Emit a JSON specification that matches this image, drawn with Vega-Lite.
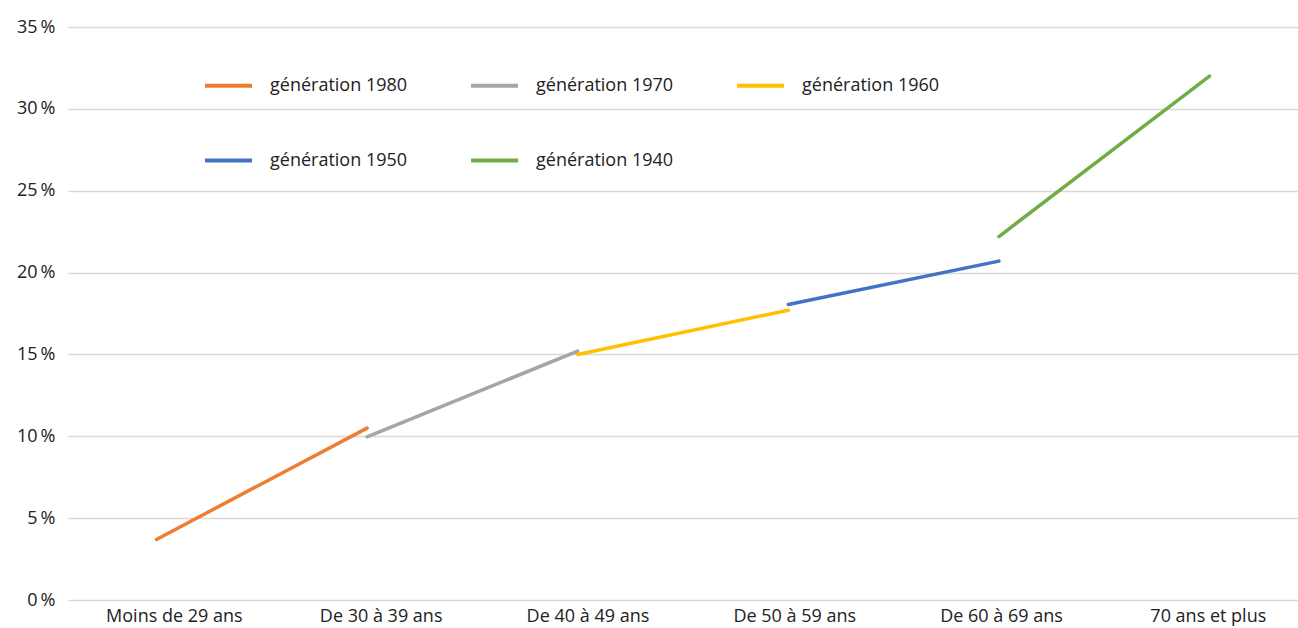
{
  "$schema": "https://vega.github.io/schema/vega-lite/v6.json",
  "width": 1230,
  "height": 573,
  "autosize": {"type": "none"},
  "padding": {"left": 68, "top": 27, "right": 0, "bottom": 28},
  "background": "white",
  "config": {
    "view": {"stroke": null},
    "font": "Open Sans",
    "axis": {"labelFont": "Open Sans", "labelColor": "#222222", "labelFontSize": 18},
    "legend": {"labelFont": "Open Sans", "labelColor": "#222222", "labelFontSize": 18}
  },
  "data": {
    "values": [
      {"generation": "génération 1980", "age": "Moins de 29 ans", "part": 0.037},
      {"generation": "génération 1980", "age": "De 30 à 39 ans", "part": 0.105},
      {"generation": "génération 1970", "age": "De 30 à 39 ans", "part": 0.0997},
      {"generation": "génération 1970", "age": "De 40 à 49 ans", "part": 0.152},
      {"generation": "génération 1960", "age": "De 40 à 49 ans", "part": 0.15},
      {"generation": "génération 1960", "age": "De 50 à 59 ans", "part": 0.177},
      {"generation": "génération 1950", "age": "De 50 à 59 ans", "part": 0.1805},
      {"generation": "génération 1950", "age": "De 60 à 69 ans", "part": 0.207},
      {"generation": "génération 1940", "age": "De 60 à 69 ans", "part": 0.222},
      {"generation": "génération 1940", "age": "70 ans et plus", "part": 0.32}
    ]
  },
  "layer": [
    {
      "mark": {"type": "point", "opacity": 0},
      "encoding": {
        "x": {
          "field": "age",
          "type": "nominal",
          "sort": ["Moins de 29 ans", "De 30 à 39 ans", "De 40 à 49 ans", "De 50 à 59 ans", "De 60 à 69 ans", "70 ans et plus"],
          "scale": {"type": "point", "padding": 0.474, "align": 0.54},
          "axis": {"title": null, "domain": false, "ticks": false, "grid": false, "labelAngle": 0, "labelPadding": 7}
        },
        "y": {
          "field": "part",
          "type": "quantitative",
          "scale": {"domain": [0, 0.35], "nice": false},
          "axis": {
            "title": null, "domain": false, "ticks": false,
            "values": [0, 0.05, 0.1, 0.15, 0.2, 0.25, 0.3, 0.35],
            "labelExpr": "format(datum.value * 100, 'd') + '\u2009%'",
            "labelPadding": 13,
            "gridColor": "#d9d9d9", "gridWidth": 1.5
          }
        }
      }
    },
    {
      "mark": {"type": "line", "strokeWidth": 3.5, "strokeCap": "round"},
      "encoding": {
        "x": {
          "field": "age",
          "type": "nominal",
          "sort": ["Moins de 29 ans", "De 30 à 39 ans", "De 40 à 49 ans", "De 50 à 59 ans", "De 60 à 69 ans", "70 ans et plus"],
          "scale": {"type": "point", "padding": 0.42},
          "axis": null
        },
        "y": {"field": "part", "type": "quantitative"},
        "color": {
          "field": "generation",
          "type": "nominal",
          "scale": {
            "domain": ["génération 1980", "génération 1970", "génération 1960", "génération 1950", "génération 1940"],
            "range": ["#ED7D31", "#A5A5A5", "#FFC000", "#4472C4", "#70AD47"]
          },
          "legend": {
            "title": null,
            "orient": "none",
            "direction": "horizontal",
            "legendX": 135,
            "legendY": 33,
            "columns": 3,
            "columnPadding": 55,
            "rowPadding": 40,
            "symbolType": "stroke",
            "symbolSize": 2209,
            "symbolStrokeWidth": 4,
            "labelOffset": 16
          }
        }
      }
    }
  ],
  "resolve": {"scale": {"x": "independent"}}
}
